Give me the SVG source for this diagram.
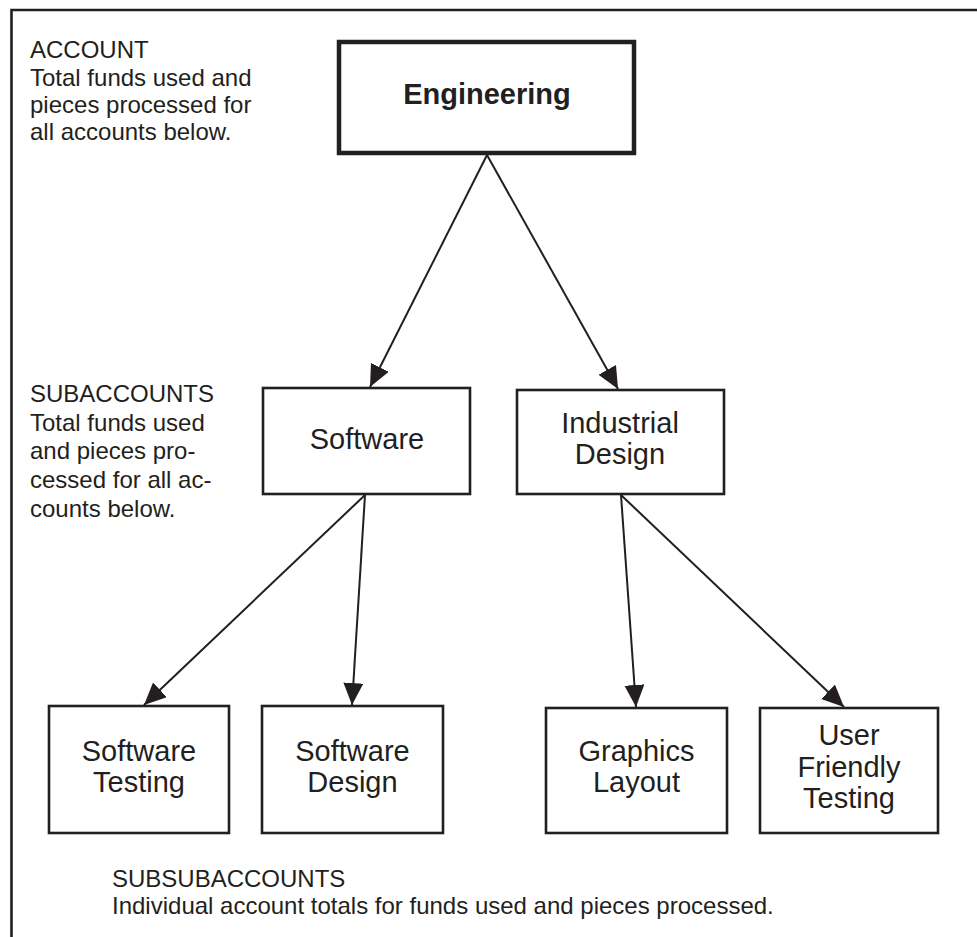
<svg xmlns="http://www.w3.org/2000/svg" width="977" height="937" viewBox="0 0 977 937">
<style>
  .frame { fill: none; stroke: #231f20; stroke-width: 2.6; }
  .box { fill: #ffffff; stroke: #231f20; stroke-width: 2.6; }
  .main { fill: #ffffff; stroke: #231f20; stroke-width: 4.5; }
  .lbl { font-family: "Liberation Sans", Arial, Helvetica, sans-serif; font-size: 29px; fill: #231f20; text-anchor: middle; }
  .bold { font-weight: bold; }
  .note { font-family: "Liberation Sans", Arial, Helvetica, sans-serif; font-size: 24px; fill: #231f20; }
  .conn { stroke: #231f20; stroke-width: 2; fill: none; marker-end: url(#arrow); }
</style>
<defs>
  <marker id="arrow" markerUnits="userSpaceOnUse" markerWidth="23" markerHeight="21" refX="22" refY="10" orient="auto">
    <path d="M0,0 L22,10 L0,20 Z" fill="#231f20"/>
  </marker>
</defs>
<rect width="977" height="937" fill="#ffffff"/>
<path class="frame" d="M11.5,937 L11.5,10 L977,10"/>

<g id="notes">
  <text class="note" x="30" y="58">ACCOUNT</text>
  <text class="note" x="30" y="86">Total funds used and</text>
  <text class="note" x="30" y="113">pieces processed for</text>
  <text class="note" x="30" y="140">all accounts below.</text>
  <text class="note" x="30" y="402">SUBACCOUNTS</text>
  <text class="note" x="30" y="431">Total funds used</text>
  <text class="note" x="30" y="459">and pieces pro-</text>
  <text class="note" x="30" y="488">cessed for all ac-</text>
  <text class="note" x="30" y="517">counts below.</text>
  <text class="note" x="112" y="887">SUBSUBACCOUNTS</text>
  <text class="note" x="112" y="914">Individual account totals for funds used and pieces processed.</text>
</g>

<g id="connectors">
  <line class="conn" x1="487" y1="155" x2="370" y2="387"/>
  <line class="conn" x1="487" y1="155" x2="618" y2="389"/>
  <line class="conn" x1="365" y1="495" x2="144" y2="705"/>
  <line class="conn" x1="365" y1="495" x2="352" y2="705"/>
  <line class="conn" x1="621" y1="495" x2="636" y2="707"/>
  <line class="conn" x1="621" y1="495" x2="844" y2="707"/>
</g>

<g id="engineering">
  <rect class="main" x="339" y="42" width="295" height="111"/>
  <text class="lbl bold" x="487" y="104">Engineering</text>
</g>
<g id="software">
  <rect class="box" x="263" y="388" width="207" height="106"/>
  <text class="lbl" x="367" y="449">Software</text>
</g>
<g id="industrial-design">
  <rect class="box" x="517" y="390" width="207" height="104"/>
  <text class="lbl" x="620" y="433">Industrial</text>
  <text class="lbl" x="620" y="464">Design</text>
</g>
<g id="software-testing">
  <rect class="box" x="49" y="706" width="180" height="127"/>
  <text class="lbl" x="139" y="761">Software</text>
  <text class="lbl" x="139" y="792">Testing</text>
</g>
<g id="software-design">
  <rect class="box" x="262" y="706" width="181" height="127"/>
  <text class="lbl" x="352.5" y="761">Software</text>
  <text class="lbl" x="352.5" y="792">Design</text>
</g>
<g id="graphics-layout">
  <rect class="box" x="546" y="708" width="181" height="125"/>
  <text class="lbl" x="636.5" y="761">Graphics</text>
  <text class="lbl" x="636.5" y="792">Layout</text>
</g>
<g id="user-friendly-testing">
  <rect class="box" x="760" y="708" width="178" height="125"/>
  <text class="lbl" x="849" y="745">User</text>
  <text class="lbl" x="849" y="777">Friendly</text>
  <text class="lbl" x="849" y="808">Testing</text>
</g>
</svg>
